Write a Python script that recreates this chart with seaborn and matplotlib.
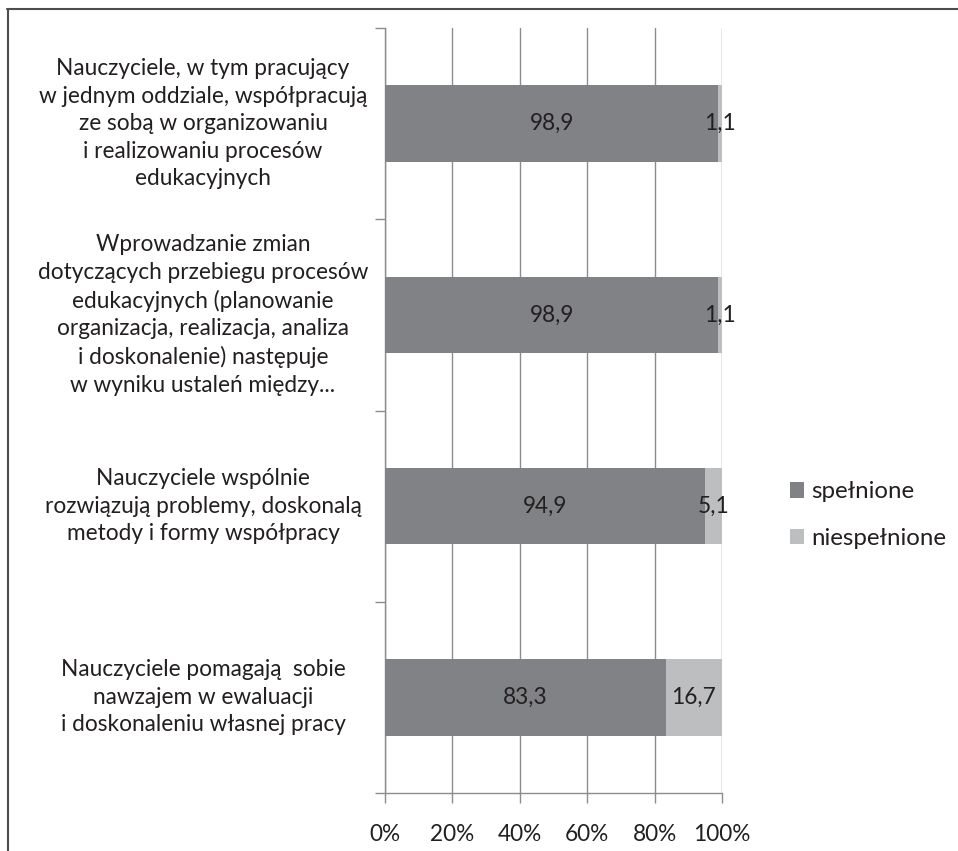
import numpy as np
import pandas as pd
import matplotlib
matplotlib.use("Agg")
import matplotlib.pyplot as plt
import seaborn as sns
from matplotlib.lines import Line2D
from matplotlib.patches import Patch
import matplotlib.transforms as mtransforms

categories = [
    "Nauczyciele, w tym pracujący\nw jednym oddziale, współpracują\nze sobą w organizowaniu\ni realizowaniu procesów\nedukacyjnych",
    "Wprowadzanie zmian\ndotyczących przebiegu procesów\nedukacyjnych (planowanie\norganizacja, realizacja, analiza\ni doskonalenie) następuje\nw wyniku ustaleń między...",
    "Nauczyciele wspólnie\nrozwiązują problemy, doskonalą\nmetody i formy współpracy",
    "Nauczyciele pomagają  sobie\nnawzajem w ewaluacji\ni doskonaleniu własnej pracy",
]
spelnione = [98.9, 98.9, 94.9, 83.3]
niespelnione = [1.1, 1.1, 5.1, 16.7]
series_names = ["spełnione", "niespełnione"]
xticks = [0, 20, 40, 60, 80, 100]
xticklabels = ["0%", "20%", "40%", "60%", "80%", "100%"]

DARK = "#808285"
LIGHT = "#bcbec0"
GRID = "#8c8c8c"
TXT = "#231f20"
FS = 16.3

sns.set_theme(style="white")
plt.rcParams["font.family"] = ["Lato", "DejaVu Sans"]

df = pd.DataFrame({
    "kat": categories,
    "spel": spelnione,
    "nies": niespelnione,
})
df["total"] = df["spel"] + df["nies"]

fig = plt.figure(figsize=(9.58, 8.51), dpi=100)
ax = fig.add_axes([385 / 958, 1 - 793 / 851, (722 - 385) / 958, (793 - 28) / 851])

sns.barplot(data=df, x="total", y="kat", orient="h", color=LIGHT, ax=ax,
            width=0.4, saturation=1, edgecolor="none", linewidth=0, zorder=3)
sns.barplot(data=df, x="spel", y="kat", orient="h", color=DARK, ax=ax,
            width=0.4, saturation=1, edgecolor="none", linewidth=0, zorder=4)

ax.set_xlim(0, 100)
ax.set_ylim(len(categories) - 0.5, -0.5)
ax.set_xlabel("")
ax.set_ylabel("")

ax.set_xticks(xticks)
ax.set_xticklabels(xticklabels, fontsize=FS, color=TXT)
ax.xaxis.grid(True, color=GRID, linewidth=1.0, zorder=0)
ax.set_axisbelow(True)

bounds = np.arange(-0.5, len(categories), 1.0)
ax.set_yticks(bounds)
ax.set_yticklabels([""] * len(bounds))
ax.tick_params(axis="y", which="major", length=7, width=1, color=GRID, direction="out", left=True)
ax.tick_params(axis="x", which="major", length=7, width=1, color=GRID, direction="out",
               bottom=True, pad=15)

for s in ["top", "right"]:
    ax.spines[s].set_visible(False)
for s in ["left", "bottom"]:
    ax.spines[s].set_color(GRID)
    ax.spines[s].set_linewidth(1.0)

trans = mtransforms.blended_transform_factory(fig.transFigure, ax.transData)
for i, lab in enumerate(categories):
    ax.text(203 / 958, i, lab, transform=trans, ha="center", va="center",
            multialignment="center", fontsize=FS, color=TXT, linespacing=1.38,
            clip_on=False)

for i, (a, b) in enumerate(zip(spelnione, niespelnione)):
    ax.text(a / 2, i, f"{a:.1f}".replace(".", ","), ha="center", va="center",
            fontsize=FS, color=TXT, zorder=6)
    ax.text(a + b / 2, i, f"{b:.1f}".replace(".", ","), ha="center", va="center",
            fontsize=FS, color=TXT, zorder=6)

handles = [Patch(facecolor=DARK, edgecolor="none"), Patch(facecolor=LIGHT, edgecolor="none")]
fig.legend(handles, series_names, loc="center left",
           bbox_to_anchor=(768 / 958, 1 - 515 / 851), frameon=False, fontsize=17.3,
           handlelength=0.6, handleheight=0.6, handletextpad=0.3, labelspacing=1.05,
           labelcolor=TXT)

fig.add_artist(Line2D([7 / 958, 1.0], [1 - 9 / 851, 1 - 9 / 851], transform=fig.transFigure,
                      color="#4d4d4d", linewidth=1.5))
fig.add_artist(Line2D([8 / 958, 8 / 958], [1 - 9 / 851, 0.0], transform=fig.transFigure,
                      color="#4d4d4d", linewidth=1.5))

fig.savefig("out.png", dpi=100, facecolor="white")
